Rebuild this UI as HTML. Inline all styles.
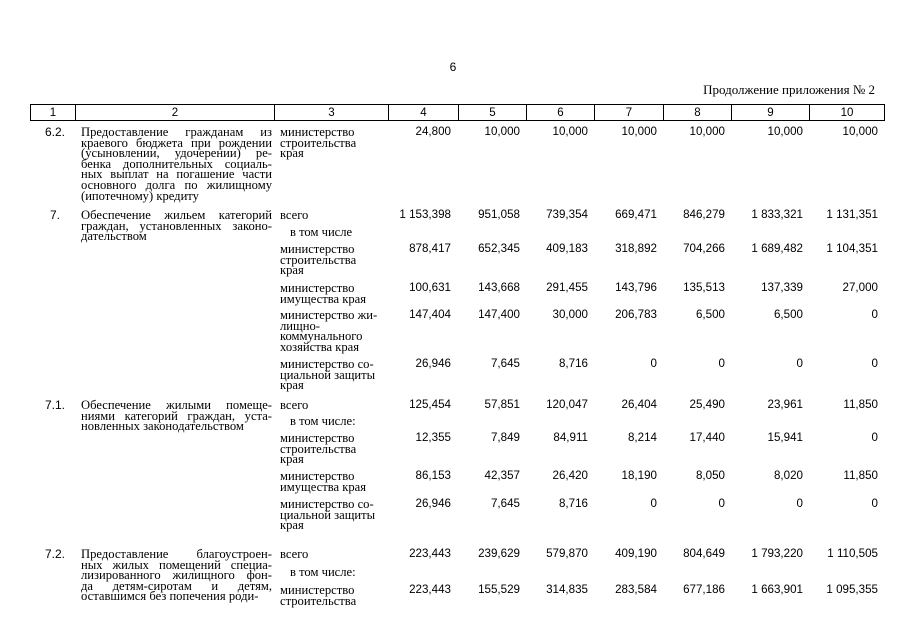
<!DOCTYPE html>
<html><head><meta charset="utf-8"><style>
body{margin:0;width:905px;height:640px;background:#fff;position:relative;overflow:hidden;color:#000}
.s{position:absolute;font-family:"Liberation Serif",serif;font-size:12.6px;line-height:10.6px;white-space:nowrap}
.j{position:absolute;font-family:"Liberation Serif",serif;font-size:12.6px;line-height:10.6px;left:81px;width:191px}
.j span{display:block;white-space:nowrap;text-align:justify;text-align-last:justify}
.j span.l{text-align-last:left}
.n{position:absolute;font-family:"Liberation Sans",sans-serif;font-size:11.6px;line-height:12px;text-align:right;white-space:nowrap}
.c1{position:absolute;font-family:"Liberation Sans",sans-serif;font-size:12px;line-height:12px;left:34px;width:42px;text-align:center}
.h{position:absolute;top:104px;height:17px;border-top:1px solid #000;border-bottom:1px solid #000;border-left:1px solid #000;font-family:"Liberation Sans",sans-serif;font-size:11.5px;line-height:17px;text-align:center;box-sizing:border-box}
</style></head><body>
<div class="n" style="left:443px;width:20px;top:61px;text-align:center;font-size:12px">6</div>
<div class="s" style="left:640px;width:235px;text-align:right;top:85px;font-size:13px">Продолжение приложения № 2</div>
<div class="h" style="left:30px;width:45px">1</div>
<div class="h" style="left:75px;width:199px">2</div>
<div class="h" style="left:274px;width:114px">3</div>
<div class="h" style="left:388px;width:70px">4</div>
<div class="h" style="left:458px;width:68px">5</div>
<div class="h" style="left:526px;width:68px">6</div>
<div class="h" style="left:594px;width:69px">7</div>
<div class="h" style="left:663px;width:68px">8</div>
<div class="h" style="left:731px;width:78px">9</div>
<div class="h" style="left:809px;width:76px;border-right:1px solid #000">10</div>

<div id="rows"></div>
<script>
const W=[[388,451],[458,520],[526,588],[594,657],[663,725],[731,803],[809,878]];
function nums(y,arr){let h='';arr.forEach((v,i)=>{h+=`<div class="n" style="left:${W[i][0]}px;width:${W[i][1]-W[i][0]}px;top:${y-6}px">${v}</div>`});return h}
function c3(y,t,ind){return `<div class="s" style="left:${ind?290:280}px;top:${y-5}px">${t}</div>`}
function c1(y,t){return `<div class="c1" style="top:${y-6}px">${t}</div>`}
function c2(y,lines){return `<div class="j" style="top:${y-5}px">`+lines.map((l,i)=>`<span class="${i==lines.length-1?'l':''}">${l}</span>`).join('')+`</div>`}
let h='';
h+=c1(132,'6.2.')+c2(132,['Предоставление гражданам из','краевого бюджета при рождении','(усыновлении, удочерении) ре-','бенка дополнительных социаль-','ных выплат на погашение части','основного долга по жилищному','(ипотечному) кредиту'])+c3(132,'министерство<br>строительства<br>края')+nums(132,['24,800','10,000','10,000','10,000','10,000','10,000','10,000']);
h+=c1(215,'7.')+c2(215,['Обеспечение жильем категорий','граждан, установленных законо-','дательством'])+c3(215,'всего')+nums(215,['1 153,398','951,058','739,354','669,471','846,279','1 833,321','1 131,351']);
h+=c3(232,'в том числе',1);
h+=c3(249,'министерство<br>строительства<br>края')+nums(249,['878,417','652,345','409,183','318,892','704,266','1 689,482','1 104,351']);
h+=c3(288,'министерство<br>имущества края')+nums(288,['100,631','143,668','291,455','143,796','135,513','137,339','27,000']);
h+=c3(315,'министерство жи-<br>лищно-<br>коммунального<br>хозяйства края')+nums(315,['147,404','147,400','30,000','206,783','6,500','6,500','0']);
h+=c3(364,'министерство со-<br>циальной защиты<br>края')+nums(364,['26,946','7,645','8,716','0','0','0','0']);
h+=c1(405,'7.1.')+c2(405,['Обеспечение жилыми помеще-','ниями категорий граждан, уста-','новленных законодательством'])+c3(405,'всего')+nums(405,['125,454','57,851','120,047','26,404','25,490','23,961','11,850']);
h+=c3(421,'в том числе:',1);
h+=c3(438,'министерство<br>строительства<br>края')+nums(438,['12,355','7,849','84,911','8,214','17,440','15,941','0']);
h+=c3(476,'министерство<br>имущества края')+nums(476,['86,153','42,357','26,420','18,190','8,050','8,020','11,850']);
h+=c3(504,'министерство со-<br>циальной защиты<br>края')+nums(504,['26,946','7,645','8,716','0','0','0','0']);
h+=c1(554,'7.2.')+c2(554,['Предоставление благоустроен-','ных жилых помещений специа-','лизированного жилищного фон-','да детям-сиротам и детям,','оставшимся без попечения роди-'])+c3(554,'всего')+nums(554,['223,443','239,629','579,870','409,190','804,649','1 793,220','1 110,505']);
h+=c3(572,'в том числе:',1);
h+=c3(590,'министерство<br>строительства')+nums(590,['223,443','155,529','314,835','283,584','677,186','1 663,901','1 095,355']);
document.getElementById('rows').innerHTML=h;
</script>
</body></html>
